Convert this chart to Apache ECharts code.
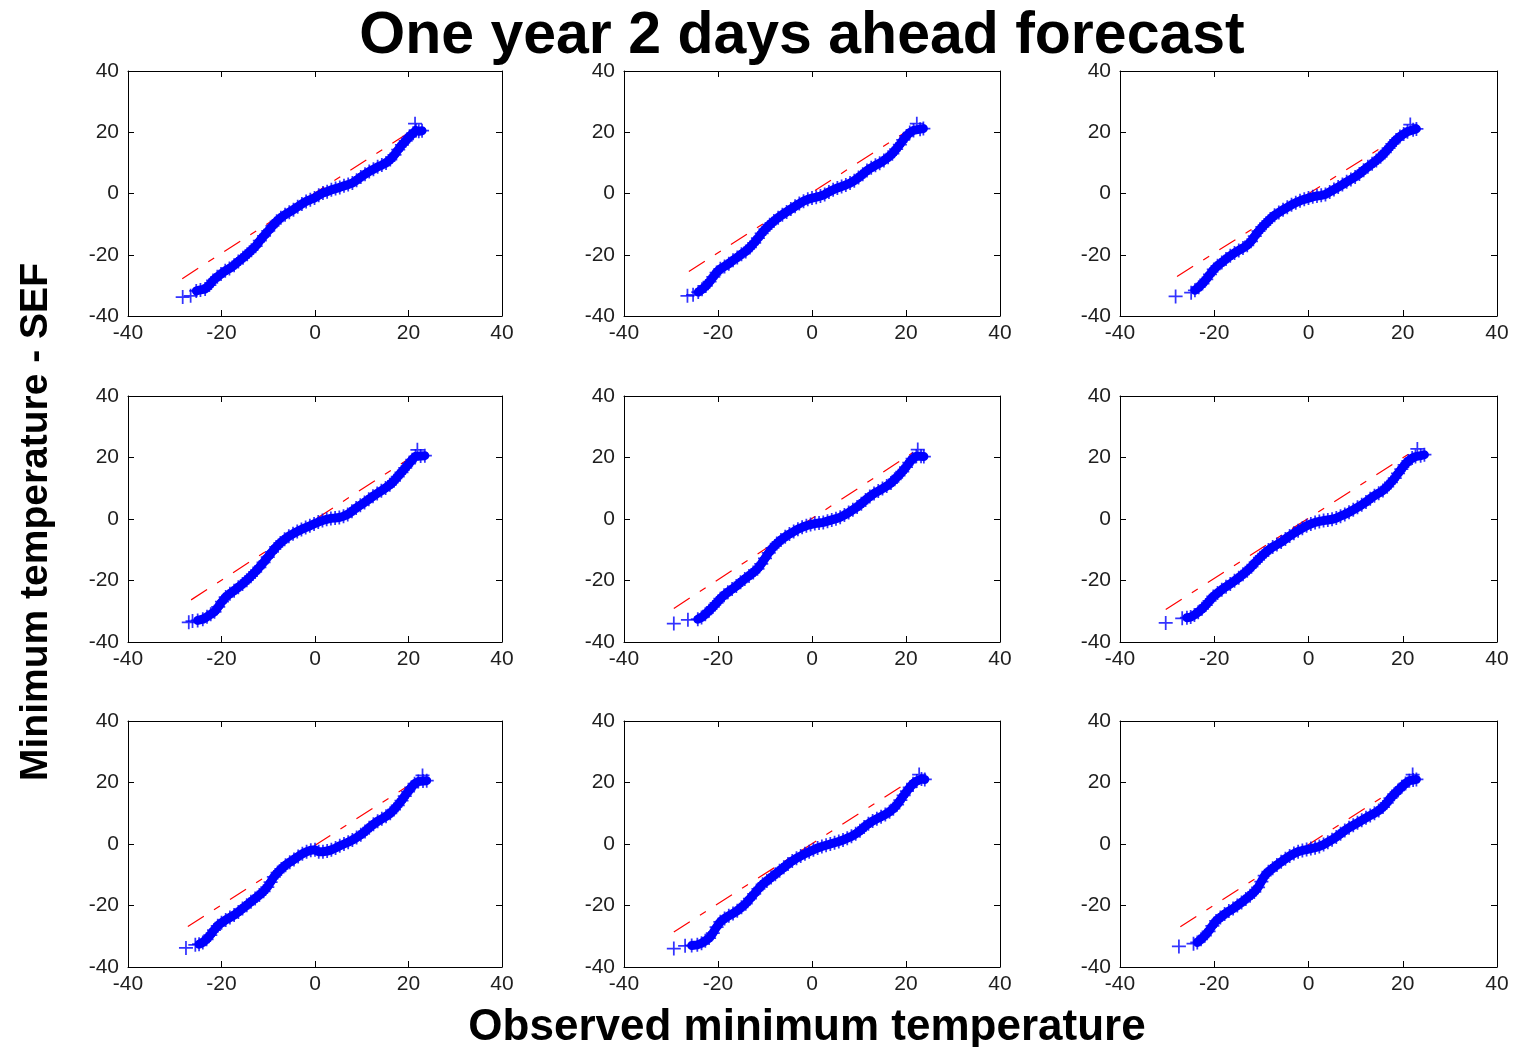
<!DOCTYPE html>
<html><head><meta charset="utf-8">
<script src="https://cdn.jsdelivr.net/npm/echarts@6/dist/echarts.min.js"></script>
<style>html,body{margin:0;padding:0;background:#fff}#c{width:1517px;height:1047px}</style>
</head><body><div id="c"></div>
<script>
const titleText = 'One year 2 days ahead forecast';
const xLabelText = 'Observed minimum temperature';
const yLabelText = 'Minimum temperature - SEF';
const axisMin = -40, axisMax = 40, axisStep = 20;

// Quantile points [observed, SEF] for each panel (row by row). Last point is the isolated upper '+'.
const panel1 = [[-28.3,-33.8],[-26.6,-33.4],[-25.4,-31.8],[-24.5,-31.5],[-23.5,-31.2],[-22.6,-29.9],[-21.8,-28.4],[-20.9,-27.2],[-20.1,-26.3],[-19.2,-25.2],[-18.3,-24.5],[-17.3,-23.4],[-16.4,-22.2],[-15.4,-21.0],[-14.5,-19.8],[-13.6,-18.5],[-12.7,-17.2],[-11.8,-15.4],[-10.9,-13.8],[-10.0,-12.2],[-9.1,-10.6],[-8.2,-9.1],[-7.3,-7.9],[-6.4,-6.9],[-5.5,-6.1],[-4.6,-5.3],[-3.7,-4.3],[-2.8,-3.4],[-1.9,-2.6],[-1.0,-2.0],[-0.1,-1.5],[0.8,-0.6],[1.7,0.2],[2.6,0.6],[3.5,1.2],[4.4,1.6],[5.3,2.0],[6.2,2.5],[7.1,2.9],[8.0,3.4],[8.9,4.3],[9.8,5.4],[10.7,6.3],[11.6,7.2],[12.5,7.9],[13.4,8.7],[14.3,9.3],[15.2,10.0],[16.1,11.1],[17.0,12.6],[17.8,14.3],[18.6,15.9],[19.4,17.2],[20.2,18.6],[21.0,19.7],[21.6,20.6],[22.2,20.3],[22.9,20.5],[21.4,22.8]];
const panel2 = [[-26.5,-33.4],[-25.3,-33.1],[-24.2,-32.2],[-23.4,-31.3],[-22.6,-30.2],[-21.8,-28.8],[-21.0,-27.2],[-20.3,-25.8],[-19.5,-24.6],[-18.6,-23.8],[-17.7,-22.9],[-16.8,-21.8],[-15.9,-20.9],[-15.0,-19.8],[-14.1,-18.9],[-13.2,-17.6],[-12.3,-16.1],[-11.5,-14.6],[-10.7,-13.0],[-9.9,-11.6],[-9.0,-10.2],[-8.1,-9.0],[-7.2,-7.9],[-6.3,-6.9],[-5.4,-6.0],[-4.5,-5.1],[-3.6,-4.2],[-2.7,-3.3],[-1.8,-2.5],[-0.9,-1.9],[0.0,-1.5],[0.9,-1.2],[1.8,-0.8],[2.7,-0.3],[3.6,0.5],[4.5,1.2],[5.4,1.8],[6.3,2.3],[7.2,2.8],[8.1,3.4],[9.0,4.2],[9.9,5.2],[10.8,6.3],[11.7,7.5],[12.6,8.4],[13.5,9.2],[14.4,9.9],[15.3,10.8],[16.2,11.8],[17.1,13.0],[17.9,14.5],[18.7,16.0],[19.4,17.5],[20.1,18.8],[20.8,19.9],[21.6,20.6],[23.0,21.0],[23.7,21.2],[22.3,22.8]];
const panel3 = [[-28.2,-33.6],[-24.9,-32.4],[-24.1,-31.6],[-23.3,-30.6],[-22.5,-29.4],[-21.7,-28.0],[-20.9,-26.4],[-20.1,-24.8],[-19.3,-23.6],[-18.4,-22.5],[-17.5,-21.4],[-16.6,-20.3],[-15.7,-19.4],[-14.8,-18.6],[-13.9,-17.8],[-13.0,-16.9],[-12.2,-15.6],[-11.4,-13.9],[-10.6,-12.3],[-9.8,-10.9],[-9.0,-9.7],[-8.1,-8.3],[-7.2,-7.1],[-6.3,-6.2],[-5.4,-5.3],[-4.5,-4.5],[-3.6,-3.7],[-2.7,-3.0],[-1.8,-2.4],[-0.9,-1.9],[0.0,-1.5],[0.9,-1.1],[1.8,-0.8],[2.7,-0.6],[3.6,-0.3],[4.5,0.5],[5.4,1.3],[6.3,2.1],[7.2,2.9],[8.1,3.8],[9.0,4.6],[9.9,5.4],[10.8,6.4],[11.7,7.6],[12.6,8.7],[13.5,9.7],[14.4,10.8],[15.3,12.0],[16.2,13.4],[17.0,14.8],[17.8,16.2],[18.6,17.5],[19.4,18.6],[20.2,19.4],[21.0,20.2],[22.2,20.8],[22.9,21.1],[21.6,22.5]];
const panel4 = [[-27.0,-33.6],[-26.2,-33.2],[-25.1,-33.0],[-24.0,-32.6],[-23.1,-31.8],[-22.3,-31.0],[-21.5,-30.2],[-20.7,-28.6],[-19.9,-26.9],[-19.1,-25.4],[-18.2,-24.3],[-17.3,-23.3],[-16.4,-22.2],[-15.5,-21.1],[-14.6,-19.9],[-13.7,-18.6],[-12.8,-17.2],[-11.9,-15.7],[-11.0,-14.1],[-10.1,-12.4],[-9.2,-10.7],[-8.3,-9.1],[-7.4,-7.8],[-6.5,-6.6],[-5.6,-5.6],[-4.7,-4.8],[-3.8,-4.1],[-2.9,-3.4],[-2.0,-2.8],[-1.1,-2.2],[-0.2,-1.6],[0.7,-1.0],[1.6,-0.5],[2.5,-0.1],[3.4,0.2],[4.3,0.3],[5.2,0.5],[6.1,0.9],[7.0,1.5],[7.9,2.5],[8.8,3.6],[9.7,4.5],[10.6,5.4],[11.5,6.4],[12.4,7.4],[13.3,8.3],[14.2,9.2],[15.1,10.1],[16.0,11.1],[16.9,12.4],[17.7,13.8],[18.5,15.2],[19.3,16.6],[20.1,18.0],[20.8,19.3],[21.5,20.4],[22.6,20.5],[23.5,20.6],[21.9,22.5]];
const panel5 = [[-29.4,-34.0],[-26.4,-32.8],[-24.3,-32.6],[-23.5,-32.0],[-22.7,-31.0],[-21.9,-29.8],[-21.1,-28.6],[-20.3,-27.3],[-19.5,-25.9],[-18.7,-24.8],[-17.9,-23.8],[-17.0,-22.8],[-16.1,-21.8],[-15.2,-20.6],[-14.3,-19.5],[-13.4,-18.5],[-12.5,-17.4],[-11.6,-16.2],[-10.8,-14.6],[-10.0,-12.8],[-9.2,-11.0],[-8.4,-9.4],[-7.5,-8.0],[-6.6,-6.8],[-5.7,-5.8],[-4.8,-4.9],[-3.9,-4.1],[-3.0,-3.3],[-2.1,-2.7],[-1.2,-2.2],[-0.3,-1.8],[0.6,-1.5],[1.5,-1.3],[2.4,-1.1],[3.3,-0.7],[4.2,-0.3],[5.1,0.1],[6.0,0.6],[6.9,1.3],[7.8,2.1],[8.7,3.0],[9.6,3.9],[10.5,5.0],[11.4,6.2],[12.3,7.3],[13.2,8.3],[14.1,9.1],[15.0,9.9],[15.9,10.7],[16.8,11.7],[17.6,12.9],[18.4,14.1],[19.2,15.4],[20.0,16.9],[20.7,18.3],[21.4,19.6],[22.2,20.4],[23.2,20.4],[23.8,20.3],[22.5,22.6]];
const panel6 = [[-30.3,-33.8],[-26.8,-32.3],[-25.8,-32.1],[-25.0,-31.9],[-24.2,-31.2],[-23.4,-30.3],[-22.6,-29.2],[-21.8,-28.0],[-21.0,-26.6],[-20.2,-25.2],[-19.3,-24.1],[-18.4,-23.0],[-17.5,-22.0],[-16.6,-21.1],[-15.7,-20.1],[-14.8,-19.1],[-13.9,-18.0],[-13.0,-16.8],[-12.1,-15.5],[-11.2,-14.0],[-10.3,-12.6],[-9.4,-11.3],[-8.5,-10.1],[-7.6,-9.1],[-6.7,-8.3],[-5.8,-7.5],[-4.9,-6.5],[-4.0,-5.5],[-3.1,-4.6],[-2.2,-3.8],[-1.3,-3.0],[-0.4,-2.2],[0.5,-1.6],[1.4,-1.1],[2.3,-0.8],[3.2,-0.5],[4.1,-0.3],[5.0,-0.1],[5.9,0.3],[6.8,0.9],[7.7,1.5],[8.6,2.2],[9.5,3.0],[10.4,3.8],[11.3,4.6],[12.2,5.5],[13.1,6.6],[14.0,7.6],[14.9,8.4],[15.8,9.3],[16.7,10.5],[17.5,11.9],[18.3,13.3],[19.0,14.8],[19.7,16.2],[20.4,17.6],[21.2,18.9],[22.0,19.8],[22.7,20.3],[23.8,20.6],[24.6,20.9],[23.1,22.8]];
const panel7 = [[-27.6,-33.8],[-25.6,-32.8],[-24.8,-32.6],[-24.0,-32.0],[-23.2,-31.0],[-22.4,-29.6],[-21.6,-28.0],[-20.8,-26.6],[-20.0,-25.6],[-19.1,-24.7],[-18.2,-23.9],[-17.3,-23.1],[-16.4,-22.1],[-15.5,-21.0],[-14.6,-19.9],[-13.7,-18.8],[-12.8,-17.7],[-11.9,-16.6],[-11.0,-15.4],[-10.2,-14.0],[-9.5,-12.4],[-8.8,-10.7],[-8.0,-9.3],[-7.2,-8.1],[-6.3,-6.9],[-5.4,-5.9],[-4.5,-5.0],[-3.6,-4.1],[-2.7,-3.2],[-1.8,-2.5],[-0.9,-2.0],[0.0,-1.9],[0.8,-2.5],[1.7,-2.5],[2.6,-2.3],[3.5,-1.9],[4.4,-1.3],[5.3,-0.6],[6.2,0.0],[7.1,0.6],[8.0,1.3],[8.9,2.1],[9.8,3.0],[10.7,4.1],[11.6,5.3],[12.5,6.4],[13.4,7.4],[14.3,8.2],[15.2,9.0],[16.1,10.0],[16.9,11.2],[17.7,12.6],[18.5,14.1],[19.2,15.6],[19.9,17.0],[20.6,18.4],[21.3,19.6],[22.1,20.3],[23.1,20.5],[23.9,20.6],[23.0,22.3]];
const panel8 = [[-29.4,-34.0],[-27.0,-33.1],[-25.6,-33.0],[-24.4,-32.8],[-23.5,-32.3],[-22.7,-31.5],[-21.9,-30.6],[-21.1,-29.0],[-20.3,-27.0],[-19.5,-25.3],[-18.6,-24.2],[-17.7,-23.3],[-16.8,-22.6],[-15.9,-21.7],[-15.0,-20.6],[-14.1,-19.4],[-13.2,-17.8],[-12.3,-16.2],[-11.4,-14.6],[-10.5,-13.1],[-9.6,-12.0],[-8.7,-10.9],[-7.8,-9.8],[-6.9,-8.7],[-6.0,-7.6],[-5.1,-6.5],[-4.2,-5.5],[-3.3,-4.6],[-2.4,-3.9],[-1.5,-3.2],[-0.6,-2.5],[0.3,-1.9],[1.2,-1.3],[2.1,-0.8],[3.0,-0.4],[3.9,0.0],[4.8,0.4],[5.7,0.8],[6.6,1.3],[7.5,1.9],[8.4,2.5],[9.3,3.3],[10.2,4.3],[11.1,5.5],[12.0,6.6],[12.9,7.5],[13.8,8.2],[14.7,8.9],[15.6,9.6],[16.5,10.5],[17.3,11.5],[18.1,12.8],[18.8,14.3],[19.5,15.8],[20.2,17.2],[20.8,18.4],[21.5,19.6],[22.3,20.5],[23.3,21.1],[24.0,21.0],[22.8,22.6]];
const panel9 = [[-27.5,-33.3],[-24.4,-32.4],[-23.6,-32.0],[-22.8,-31.0],[-22.0,-29.8],[-21.2,-28.4],[-20.4,-26.6],[-19.6,-25.0],[-18.7,-23.9],[-17.8,-22.8],[-16.9,-21.8],[-16.0,-21.0],[-15.1,-20.0],[-14.2,-19.0],[-13.3,-17.9],[-12.4,-16.8],[-11.5,-15.6],[-10.7,-14.1],[-10.0,-12.2],[-9.3,-10.3],[-8.5,-9.0],[-7.6,-7.9],[-6.7,-6.8],[-5.8,-5.8],[-4.9,-4.8],[-4.0,-3.9],[-3.1,-3.1],[-2.2,-2.5],[-1.3,-2.1],[-0.4,-1.8],[0.5,-1.5],[1.4,-1.2],[2.3,-0.8],[3.2,-0.2],[4.1,0.6],[5.0,1.4],[5.9,2.3],[6.8,3.3],[7.7,4.4],[8.6,5.3],[9.5,6.1],[10.4,6.9],[11.3,7.7],[12.2,8.5],[13.1,9.3],[14.0,10.0],[14.9,10.9],[15.8,12.0],[16.6,13.4],[17.4,14.9],[18.2,16.2],[19.0,17.4],[19.8,18.6],[20.6,19.7],[21.4,20.6],[22.2,20.8],[22.9,21.0],[22.1,22.6]];

// Red reference lines (end points) for each panel
const refLine1 = [[-28.4,-27.8],[21.5,21.3]];
const refLine2 = [[-26.2,-25.5],[22.2,22.3]];
const refLine3 = [[-27.9,-27.1],[21.6,20.9]];
const refLine4 = [[-26.5,-26.3],[21.8,21.3]];
const refLine5 = [[-29.4,-29.1],[21.5,21.6]];
const refLine6 = [[-30.3,-29.4],[23.3,23.1]];
const refLine7 = [[-27.2,-26.8],[22.9,21.8]];
const refLine8 = [[-29.4,-28.6],[21.8,21.4]];
const refLine9 = [[-27.2,-26.9],[22.1,21.5]];

const panels = [panel1, panel2, panel3, panel4, panel5, panel6, panel7, panel8, panel9];
const refLines = [refLine1, refLine2, refLine3, refLine4, refLine5, refLine6, refLine7, refLine8, refLine9];

const colLeft = [128, 624, 1120], colWidth = [374, 376, 377];
const rowTop = [71, 396, 721], rowHeight = [245, 246, 246];
const plusPath = 'path://M10.5,0H13.5V10.5H24V13.5H13.5V24H10.5V13.5H0V10.5H10.5Z';
const FONT = '"Liberation Sans", Arial, Helvetica, sans-serif';

const grids = [], xAxes = [], yAxes = [], series = [];
function mkAxis(dim, gi, pos, labels) {
  return {
    type: 'value', gridIndex: gi, min: axisMin, max: axisMax, interval: axisStep, position: pos,
    axisLine: { show: true, onZero: false, lineStyle: { color: '#000', width: 1 } },
    axisTick: { show: true, inside: true, length: 6, lineStyle: { color: '#000', width: 1 } },
    axisLabel: { show: labels, fontSize: 21, fontFamily: FONT, color: '#1e1e1e', margin: dim === 'x' ? 7 : 9,
                 showMinLabel: true, showMaxLabel: true },
    splitLine: { show: false }
  };
}
for (let i = 0; i < 9; i++) {
  const r = Math.floor(i / 3), c = i % 3;
  grids.push({ left: colLeft[c], top: rowTop[r], width: colWidth[c], height: rowHeight[r],
               containLabel: false, outerBoundsMode: 'none', show: false });
  xAxes.push(mkAxis('x', i, 'bottom', true));
  xAxes.push(mkAxis('x', i, 'top', false));
  yAxes.push(mkAxis('y', i, 'left', true));
  yAxes.push(mkAxis('y', i, 'right', false));
  const pts = panels[i];
  series.push({ type: 'line', xAxisIndex: 2 * i, yAxisIndex: 2 * i, data: refLines[i], symbol: 'none',
                lineStyle: { color: '#ff0000', width: 1.2, type: [19, 12, 7, 12] }, z: 2, silent: true });
  series.push({ type: 'line', xAxisIndex: 2 * i, yAxisIndex: 2 * i, data: pts.slice(2, -1), symbol: 'none',
                lineStyle: { color: '#0000ff', width: 9, cap: 'round', join: 'round' }, z: 3, silent: true });
  series.push({ type: 'scatter', xAxisIndex: 2 * i, yAxisIndex: 2 * i, data: pts, symbol: plusPath,
                symbolSize: 14, itemStyle: { color: '#0000ff' }, z: 4, silent: true });
}

const chart = echarts.init(document.getElementById('c'), null, { renderer: 'canvas' });
chart.setOption({
  animation: false,
  backgroundColor: '#fff',
  title: { text: titleText, left: 797, top: 2, textAlign: 'center',
           textStyle: { fontSize: 59, fontWeight: 'bold', fontFamily: FONT, color: '#000' } },
  grid: grids, xAxis: xAxes, yAxis: yAxes, series: series,
  graphic: [
    { type: 'text', x: 36, y: 522, rotation: Math.PI / 2,
      style: { text: yLabelText, font: 'bold 39px ' + FONT, fill: '#000',
               align: 'center', verticalAlign: 'middle', textAlign: 'center', textVerticalAlign: 'middle' } },
    { type: 'text', x: 807, y: 1028,
      style: { text: xLabelText, font: 'bold 44px ' + FONT, fill: '#000',
               align: 'center', verticalAlign: 'middle', textAlign: 'center', textVerticalAlign: 'middle' } }
  ]
});
</script></body></html>
